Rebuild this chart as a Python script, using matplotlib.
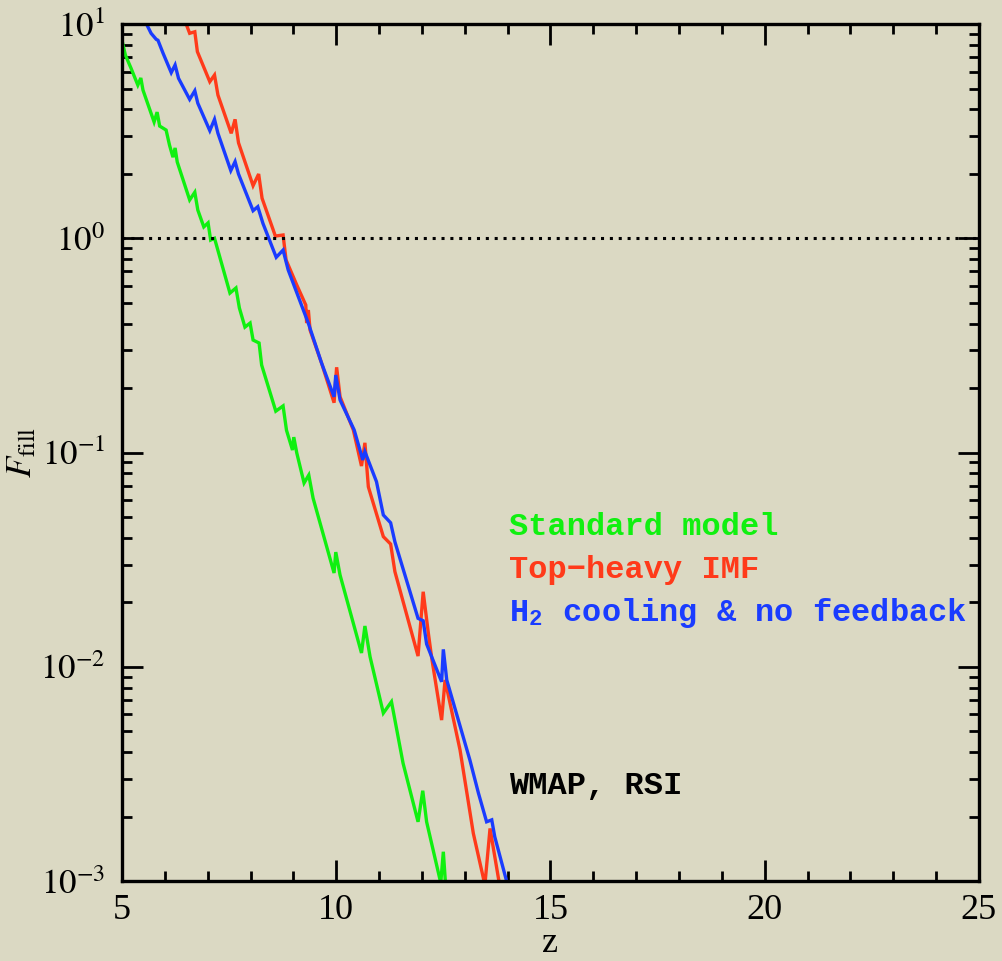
import numpy as np
import matplotlib
matplotlib.use("Agg")
import matplotlib.pyplot as plt
from matplotlib.ticker import LogLocator, FixedLocator, MultipleLocator, NullFormatter

# --- data: filling factor vs redshift -------------------------------------
z_std = [5.02, 5.08, 5.21, 5.37, 5.44, 5.49, 5.75, 5.82, 5.88, 6.03, 6.11, 6.19,
         6.24, 6.29, 6.58, 6.70, 6.77, 6.91, 7.01, 7.07, 7.16, 7.52, 7.66, 7.74,
         7.87, 7.99, 8.06, 8.20, 8.26, 8.59, 8.76, 8.84, 8.98, 9.01, 9.08, 9.25,
         9.36, 9.46, 9.95, 9.99, 10.09, 10.59, 10.67, 10.79, 11.10, 11.29, 11.56,
         11.91, 12.02, 12.11, 12.44, 12.50, 12.58]
f_std = [8.07, 7.16, 6.23, 5.19, 5.60, 4.92, 3.49, 3.88, 3.34, 3.20, 2.72, 2.39,
         2.64, 2.27, 1.51, 1.64, 1.355, 1.13, 1.18, 0.981, 1.00, 0.555, 0.586, 0.473,
         0.385, 0.402, 0.335, 0.3245, 0.256, 0.156, 0.165, 0.127, 0.1027, 0.118, 0.0995, 0.0721,
         0.0785, 0.0613, 0.0274, 0.0343, 0.0268, 0.0116, 0.0155, 0.01114, 0.00608, 0.00687, 0.00355,
         0.00189, 0.00264, 0.00189, 0.00098, 0.00137, 0.00080]

z_top = [6.45, 6.58, 6.70, 6.76, 7.05, 7.16, 7.24, 7.55, 7.64, 7.72, 8.06, 8.19,
         8.27, 8.58, 8.76, 8.83, 9.08, 9.29, 9.31, 9.35, 9.39, 9.66, 9.95, 10.01,
         10.09, 10.40, 10.59, 10.67, 10.75, 11.10, 11.27, 11.37, 11.91, 12.03, 12.15,
         12.23, 12.46, 12.54, 12.89, 13.20, 13.47, 13.59, 13.82]
f_top = [10.6, 9.05, 9.2, 7.43, 5.38, 5.78, 4.66, 3.09, 3.59, 2.79, 1.76, 1.995,
         1.537, 1.024, 1.036, 0.792, 0.605, 0.488, 0.402, 0.4625, 0.373, 0.261, 0.1708, 0.25,
         0.182, 0.1274, 0.0865, 0.111, 0.0692, 0.0405, 0.0374, 0.0278, 0.01122, 0.0224, 0.01437,
         0.01095, 0.00564, 0.00868, 0.00409, 0.00167, 0.00096, 0.00176, 0.00094]

z_h2 = [5.53, 5.68, 5.80, 5.84, 5.96, 6.15, 6.24, 6.32, 6.58, 6.70, 6.77, 7.05,
        7.16, 7.24, 7.54, 7.64, 7.72, 8.06, 8.17, 8.29, 8.60, 8.76, 8.88, 9.35,
        9.66, 9.95, 9.99, 10.09, 10.42, 10.62, 10.67, 10.94, 11.10, 11.27, 11.37,
        11.91, 12.03, 12.11, 12.46, 12.50, 12.58, 13.12, 13.32, 13.51, 13.63, 13.70, 14.00]
f_h2 = [10.4, 9.05, 8.48, 8.40, 7.30, 5.93, 6.44, 5.58, 4.45, 4.88, 4.27, 3.18,
        3.59, 3.09, 2.07, 2.28, 1.995, 1.345, 1.404, 1.174, 0.815, 0.881, 0.711, 0.401,
        0.261, 0.182, 0.23, 0.1758, 0.1274, 0.0923, 0.1009, 0.0731, 0.0511, 0.047, 0.0383,
        0.01683, 0.0164, 0.01277, 0.00851, 0.01206, 0.00868, 0.00367, 0.00257, 0.00189, 0.00193, 0.00161, 0.00096]

labels = ["Standard model", "Top\u2212heavy IMF", r"H$_\mathregular{2}$ cooling & no feedback"]
colors = ["#10f010", "#ff3a1a", "#1a3cff"]
note = "WMAP, RSI"

# --- figure ----------------------------------------------------------------
bg = "#dbd9c3"
plt.rcParams["mathtext.fontset"] = "stix"
serif = ["Liberation Serif", "DejaVu Serif"]

fig = plt.figure(figsize=(10.03, 9.61), dpi=100, facecolor=bg)
ax = fig.add_axes([0.1216, 0.0832, 0.8544, 0.8918])
ax.set_facecolor(bg)

for zz, ff, c in zip([z_std, z_top, z_h2], [f_std, f_top, f_h2], colors):
    ax.plot(zz, ff, color=c, lw=2.4, solid_joinstyle="miter", clip_on=True)

ax.axhline(1.0, color="black", lw=2.2, ls=(0, (1, 1.9)))

ax.set_yscale("log")
ax.set_xlim(5, 25)
ax.set_ylim(1e-3, 1e1)

ax.xaxis.set_major_locator(MultipleLocator(5))
ax.xaxis.set_minor_locator(MultipleLocator(1))
ax.yaxis.set_major_locator(FixedLocator([1e-3, 1e-2, 1e-1, 1e0, 1e1]))
ax.yaxis.set_minor_locator(LogLocator(base=10, subs=np.arange(2, 10)))
ax.yaxis.set_minor_formatter(NullFormatter())
ax.set_yticklabels([r"$10^{-3}$", r"$10^{-2}$", r"$10^{-1}$", r"$10^{0}$", r"$10^{1}$"])

ax.tick_params(which="both", direction="in", top=True, right=True, color="black")
ax.tick_params(which="major", length=15, width=2.0)
ax.tick_params(axis="x", which="major", pad=9, labelsize=26)
ax.tick_params(axis="y", which="major", pad=12, labelsize=25)
ax.tick_params(which="minor", length=7.5, width=2.0)
for lab in ax.get_xticklabels() + ax.get_yticklabels():
    lab.set_family(serif)
for s in ax.spines.values():
    s.set_linewidth(2.4)

ax.set_xlabel("z", fontsize=26, family=serif, labelpad=0)
ax.text(-0.118, 0.50, r"$F_{\mathrm{fill}}$", transform=ax.transAxes, rotation=90,
        fontsize=25, ha="center", va="center")

mono = dict(family=["Liberation Mono", "DejaVu Sans Mono"], weight="bold", fontsize=23)
ys = [0.413, 0.363, 0.3127]
for lab, c, y in zip(labels, colors, ys):
    ax.text(0.452, y, lab, color=c, transform=ax.transAxes, va="center", ha="left", **mono)
ax.text(0.452, 0.111, note, color="black", transform=ax.transAxes, va="center", ha="left", **mono)

fig.savefig("out.png", dpi=100, facecolor=bg)
